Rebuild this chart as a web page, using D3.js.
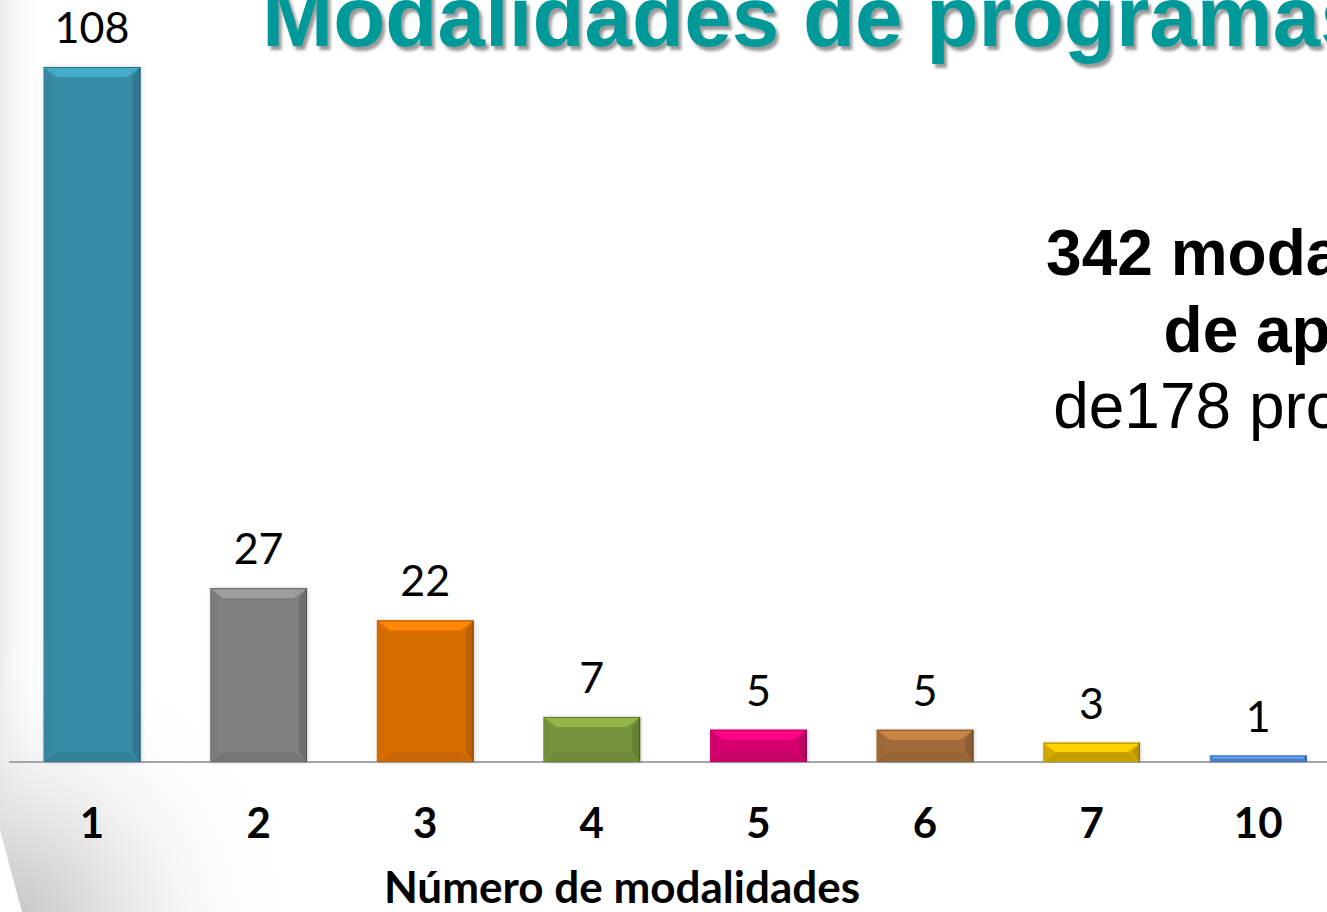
<!DOCTYPE html>
<html>
<head>
<meta charset="utf-8">
<script src="https://cdn.jsdelivr.net/npm/d3@7"></script>
<style>
	body { margin: 0; background: #fff; overflow: hidden; }
	svg { display: block; }
</style>
</head>
<body>
<div id="chart"></div>
<script>
var categories = ["1", "2", "3", "4", "5", "6", "7", "10"];
var values = [108, 27, 22, 7, 5, 5, 3, 1];
var colors = ["#378BA4", "#7F7F7F", "#D86E05", "#77933C", "#D6056E", "#A26B38", "#D4AB02", "#4F86D3"];
var titleText = "Modalidades de programas";
var noteLines = [
	{text: "342 modalidades", bold: true},
	{text: "de apoyo", bold: true},
	{text: "de178 programas", bold: false}
];
var xTitle = "Número de modalidades";

var width = 1327, height = 912;

var svg = d3.select("#chart").append("svg")
	.attr("width", width)
	.attr("height", height);

var defs = svg.append("defs");

var bg = defs.append("radialGradient")
	.attr("id", "bggrad")
	.attr("gradientUnits", "userSpaceOnUse")
	.attr("cx", 0).attr("cy", 930)
	.attr("r", 300);
bg.append("stop").attr("offset", "0").attr("stop-color", "#c0c0c0").attr("stop-opacity", 1);
bg.append("stop").attr("offset", "0.3").attr("stop-color", "#d8d8d8").attr("stop-opacity", 0.9);
bg.append("stop").attr("offset", "0.65").attr("stop-color", "#efefef").attr("stop-opacity", 0.5);
bg.append("stop").attr("offset", "1").attr("stop-color", "#ffffff").attr("stop-opacity", 0);

var side = defs.append("linearGradient")
	.attr("id", "sidegrad")
	.attr("gradientUnits", "userSpaceOnUse")
	.attr("x1", 0).attr("y1", 0)
	.attr("x2", 45).attr("y2", 0);
side.append("stop").attr("offset", "0").attr("stop-color", "#ebebeb");
side.append("stop").attr("offset", "1").attr("stop-color", "#ffffff").attr("stop-opacity", 0);

var shadow = defs.append("filter").attr("id", "tshadow")
	.attr("x", "-5%").attr("y", "-20%").attr("width", "110%").attr("height", "150%");
shadow.append("feDropShadow")
	.attr("dx", 3).attr("dy", 4)
	.attr("stdDeviation", 1.5)
	.attr("flood-color", "#555")
	.attr("flood-opacity", 0.6);

var barShadow = defs.append("filter").attr("id", "bshadow")
	.attr("x", "-20%").attr("y", "-5%").attr("width", "140%").attr("height", "110%");
barShadow.append("feDropShadow")
	.attr("dx", 1).attr("dy", 0)
	.attr("stdDeviation", 2)
	.attr("flood-color", "#000")
	.attr("flood-opacity", 0.2);

// slide background, faint grey on the left side
svg.append("rect")
	.attr("x", 0).attr("y", 0)
	.attr("width", 45).attr("height", height)
	.attr("fill", "url(#sidegrad)");
svg.append("rect")
	.attr("x", 0).attr("y", 0)
	.attr("width", width).attr("height", height)
	.attr("fill", "url(#bggrad)");
svg.append("path")
	.attr("d", "M0,830 L22,912 L0,912 Z")
	.attr("fill", "#fff");

var x = d3.scaleBand()
	.domain(categories)
	.range([8.7, 1341.5])
	.paddingInner(0.42)
	.paddingOuter(0.21);

var y = d3.scaleLinear()
	.domain([0, 108])
	.range([762, 67]);

var data = categories.map(function(c, i) {
	return {cat: c, value: values[i], color: colors[i]};
});

// axis line
svg.append("line")
	.attr("x1", 9).attr("x2", width)
	.attr("y1", y(0)).attr("y2", y(0))
	.attr("stroke", "#A6A6A6")
	.attr("stroke-width", 2);

var bars = svg.selectAll(".bar")
	.data(data)
	.enter().append("g")
	.attr("class", "bar");

bars.append("rect")
	.attr("x", function(d) { return x(d.cat); })
	.attr("y", function(d) { return y(d.value); })
	.attr("width", x.bandwidth())
	.attr("height", function(d) { return y(0) - y(d.value); })
	.attr("fill", function(d) { return d.color; })
	.attr("filter", "url(#bshadow)");

// bevel faces
bars.each(function(d) {
	var g = d3.select(this);
	var x0 = x(d.cat), x1 = x0 + x.bandwidth();
	var y0 = y(d.value), y1 = y(0);
	var h = y1 - y0;
	var b = Math.min(10, h / 2);
	var bx = Math.min(13, b * 1.3);
	var base = d3.color(d.color);
	g.append("polygon")
		.attr("points", [[x0, y0], [x1, y0], [x1 - bx, y0 + b], [x0 + bx, y0 + b]].join(" "))
		.attr("fill", base.brighter(0.6));
	g.append("polygon")
		.attr("points", [[x0, y1], [x1, y1], [x1 - bx, y1 - b], [x0 + bx, y1 - b]].join(" "))
		.attr("fill", base.darker(0.2));
	g.append("polygon")
		.attr("points", [[x1, y0], [x1, y1], [x1 - bx * 0.6, y1 - b], [x1 - bx * 0.6, y0 + b]].join(" "))
		.attr("fill", base.darker(0.4));
	g.append("polygon")
		.attr("points", [[x0, y0], [x0, y1], [x0 + bx * 0.5, y1 - b], [x0 + bx * 0.5, y0 + b]].join(" "))
		.attr("fill", base.darker(0.08));
	g.append("line")
		.attr("x1", x0).attr("x2", x1)
		.attr("y1", y0 + 0.5).attr("y2", y0 + 0.5)
		.attr("stroke", base.darker(0.6))
		.attr("stroke-width", 1);
	g.append("line")
		.attr("x1", x1 - 0.5).attr("x2", x1 - 0.5)
		.attr("y1", y0).attr("y2", y1)
		.attr("stroke", base.darker(1.2))
		.attr("stroke-width", 1.2);
});

// value labels
svg.selectAll(".vlabel")
	.data(data)
	.enter().append("text")
	.attr("class", "vlabel")
	.attr("x", function(d) { return x(d.cat) + x.bandwidth() / 2; })
	.attr("y", function(d) { return y(d.value) - 24; })
	.attr("text-anchor", "middle")
	.attr("font-family", "Lato, 'Open Sans', sans-serif")
	.attr("font-size", 43)
	.attr("fill", "#000")
	.text(function(d) { return d.value; });

// category axis
var xAxis = svg.append("g")
	.attr("transform", "translate(0," + y(0) + ")")
	.call(d3.axisBottom(x).tickSize(0).tickPadding(0));
xAxis.select(".domain").remove();
xAxis.selectAll("text")
	.attr("y", 76)
	.attr("dy", 0)
	.attr("font-family", "Lato, 'Open Sans', sans-serif")
	.attr("font-weight", "bold")
	.attr("font-size", 42)
	.attr("fill", "#000");

svg.append("text")
	.attr("x", 622)
	.attr("y", 903)
	.attr("text-anchor", "middle")
	.attr("font-family", "Lato, 'Open Sans', sans-serif")
	.attr("font-weight", "bold")
	.attr("font-size", 44)
	.attr("fill", "#000")
	.text(xTitle);

// title
svg.append("text")
	.attr("x", 262)
	.attr("y", 46)
	.attr("font-family", "'Liberation Sans', Arial, sans-serif")
	.attr("font-weight", "bold")
	.attr("font-size", 85.4)
	.attr("fill", "#009999")
	.attr("filter", "url(#tshadow)")
	.text(titleText);

// side note
svg.selectAll(".note")
	.data(noteLines)
	.enter().append("text")
	.attr("class", "note")
	.attr("x", 1304)
	.attr("y", function(d, i) { return 275 + i * 76.5; })
	.attr("text-anchor", "middle")
	.attr("font-family", "'Liberation Sans', Arial, sans-serif")
	.attr("font-weight", function(d) { return d.bold ? "bold" : "normal"; })
	.attr("font-size", 64)
	.attr("fill", "#000")
	.text(function(d) { return d.text; });
</script>
</body>
</html>
